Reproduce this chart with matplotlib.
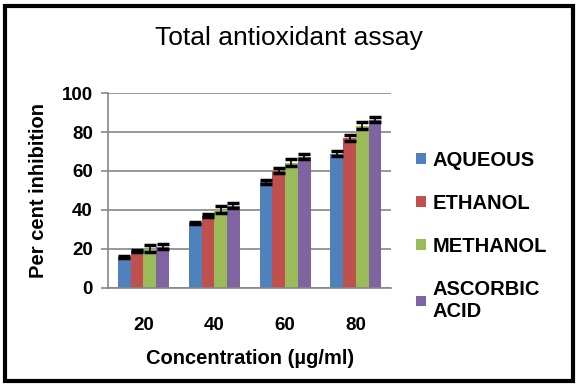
import matplotlib
matplotlib.use("Agg")
import matplotlib.pyplot as plt
import numpy as np
from matplotlib.patches import Rectangle, Patch

plt.rcParams['font.family'] = ['Liberation Sans', 'DejaVu Sans']

categories = ["20", "40", "60", "80"]
series = ["AQUEOUS", "ETHANOL", "METHANOL", "ASCORBIC\nACID"]
aqueous = [16.1, 33.3, 54.5, 68.9]
ethanol = [19.1, 37.1, 60.2, 77.1]
methanol = [20.2, 40.2, 64.3, 83.2]
ascorbic = [21.2, 42.2, 67.4, 86.3]
err_aqueous = [0.5, 0.5, 1.1, 1.4]
err_ethanol = [0.5, 0.9, 1.4, 1.6]
err_methanol = [1.9, 1.9, 1.9, 1.9]
err_ascorbic = [1.4, 1.4, 1.4, 1.4]
colors = ["#4F81BD", "#C0504D", "#9BBB59", "#8064A2"]

values = [aqueous, ethanol, methanol, ascorbic]
errors = [err_aqueous, err_ethanol, err_methanol, err_ascorbic]

fig = plt.figure(figsize=(5.78, 3.86), dpi=100)
ax = fig.add_axes([0.187, 0.254, 0.490, 0.505])

x = np.arange(len(categories))
w = 0.18
for i, (vals, errs, c, name) in enumerate(zip(values, errors, colors, series)):
    pos = x + (i - 1.5) * w
    ax.bar(pos, vals, w, color=c, label=name, zorder=2)
    ax.errorbar(pos, vals, yerr=errs, fmt='none', ecolor='black',
                elinewidth=1.2, capsize=4, capthick=2.5, zorder=3)

ax.set_xlim(-0.5, len(categories) - 0.5)
ax.set_ylim(0, 100)
ax.set_yticks([0, 20, 40, 60, 80, 100])
ax.set_xticks(x)
ax.set_xticklabels(categories)
ax.yaxis.grid(True, color='#868686', linewidth=1.2, zorder=0)
ax.set_axisbelow(True)
for s in ['top', 'right']:
    ax.spines[s].set_visible(False)
for s in ['left', 'bottom']:
    ax.spines[s].set_color('#868686')
    ax.spines[s].set_linewidth(1.2)
ax.tick_params(axis='y', length=5, color='#868686', width=1.2, pad=6)
ax.tick_params(axis='x', length=0, pad=21)
for lbl in ax.get_xticklabels() + ax.get_yticklabels():
    lbl.set_fontsize(13.5)
    lbl.set_fontweight('bold')

ax.set_ylabel("Per cent inhibition", fontsize=14.5, fontweight='bold', labelpad=10)
ax.set_xlabel("Concentration (\u00b5g/ml)", fontsize=14.5, fontweight='bold', labelpad=11)

fig.text(0.5, 0.902, "Total antioxidant assay", ha='center', va='center', fontsize=19)

handles = [Patch(facecolor=c, label=n) for c, n in zip(colors, series)]
leg = fig.legend(handles=handles, loc='center left', bbox_to_anchor=(0.692, 0.389),
                 frameon=False, prop={'weight': 'bold', 'size': 14.5},
                 handlelength=0.5, handleheight=0.45, handletextpad=0.3,
                 labelspacing=1.2, borderpad=0.3)

border = Rectangle((4.5 / 578, 5.5 / 386), 568.5 / 578, 375 / 386,
                   transform=fig.transFigure, fill=False, edgecolor='black',
                   linewidth=3, zorder=10)
fig.patches.append(border)

fig.savefig("out.png", dpi=100)
